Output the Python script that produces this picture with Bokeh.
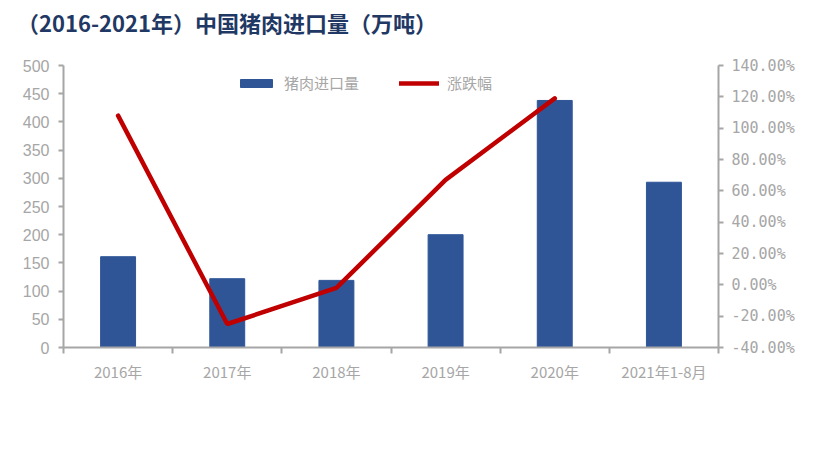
from bokeh.plotting import figure
from bokeh.models import Range1d, LinearAxis, FixedTicker, NumeralTickFormatter, ColumnDataSource, Legend, LegendItem, Div
from bokeh.layouts import column
from bokeh.embed import file_html
from bokeh.resources import INLINE

title_text = "（2016-2021年）中国猪肉进口量（万吨）"
categories = ["2016年", "2017年", "2018年", "2019年", "2020年", "2021年1-8月"]
imports = [161, 122, 119, 200, 438, 293]
change = [1.08, -0.25, -0.02, 0.67, 1.19]

xs = [i + 0.5 for i in range(len(categories))]
bar_src = ColumnDataSource(dict(x=xs, top=imports))
line_src = ColumnDataSource(dict(x=xs[:len(change)], y=change))

FONT = "Noto Sans CJK SC"
GREY = "#A6A6A6"

title = Div(text=title_text, width=810, height=44, margin=0,
            styles={"font-family": FONT, "font-size": "22px", "font-weight": "bold",
                    "color": "#1F3864", "line-height": "44px", "padding-left": "17px",
                    "white-space": "nowrap"})

p = figure(width=810, height=416, output_backend="svg", toolbar_location=None,
           x_range=Range1d(0, 6), y_range=Range1d(0, 500), margin=0,
           min_border_left=63, min_border_right=92, min_border_top=21, min_border_bottom=113)
p.outline_line_color = None
p.xgrid.grid_line_color = None
p.ygrid.grid_line_color = None
p.background_fill_color = "white"
p.border_fill_color = "white"

p.extra_y_ranges = {"pct": Range1d(-0.4, 1.4)}

bars = p.vbar(x="x", top="top", width=0.32, source=bar_src, color="#2F5597")
line = p.line(x="x", y="y", source=line_src, y_range_name="pct", color="#C00000", line_width=4.5, line_cap="round")

# x axis
xa = p.xaxis[0]
xa.ticker = FixedTicker(ticks=xs, minor_ticks=list(range(7)))
xa.major_label_overrides = {x: c for x, c in zip(xs, categories)}
xa.major_tick_line_color = None
xa.minor_tick_out = 6
xa.minor_tick_in = 0
xa.minor_tick_line_color = GREY
xa.axis_line_color = GREY
xa.axis_line_width = 2
xa.minor_tick_line_width = 2
xa.major_label_text_color = GREY
xa.major_label_text_font = FONT
xa.major_label_text_font_size = "15px"
xa.major_label_standoff = 7

# left axis
ya = p.yaxis[0]
ya.ticker = FixedTicker(ticks=list(range(0, 501, 50)))
ya.minor_tick_line_color = None
ya.major_tick_out = 5
ya.major_tick_in = 0
ya.axis_line_color = GREY
ya.axis_line_width = 2
ya.major_tick_line_color = GREY
ya.major_tick_line_width = 2
ya.major_label_text_color = GREY
ya.major_label_text_font = "Liberation Sans"
ya.major_label_text_font_size = "16px"
ya.major_label_standoff = 9

# right axis
ra = LinearAxis(y_range_name="pct", ticker=FixedTicker(ticks=[-0.4 + 0.2 * i for i in range(10)]),
                formatter=NumeralTickFormatter(format="0.00%"))
ra.minor_tick_line_color = None
ra.major_tick_out = 5
ra.major_tick_in = 0
ra.axis_line_color = GREY
ra.axis_line_width = 2
ra.major_tick_line_color = GREY
ra.major_tick_line_width = 2
ra.major_label_text_color = GREY
ra.major_label_text_font = "DejaVu Sans Mono"
ra.major_label_text_font_size = "15px"
ra.major_label_standoff = 8
p.add_layout(ra, "right")

legend = Legend(items=[LegendItem(label="猪肉进口量", renderers=[bars]),
                       LegendItem(label="涨跌幅", renderers=[line])],
                orientation="horizontal", location=(173, 254),
                label_text_font=FONT, label_text_font_size="15px", label_text_color=GREY,
                border_line_color=None, background_fill_alpha=0, padding=5,
                glyph_width=40, glyph_height=10, spacing=40, label_standoff=8)
p.add_layout(legend, "center")

layout = column(title, p, spacing=0, margin=0)
open("out.html", "w").write(file_html(layout, INLINE))
